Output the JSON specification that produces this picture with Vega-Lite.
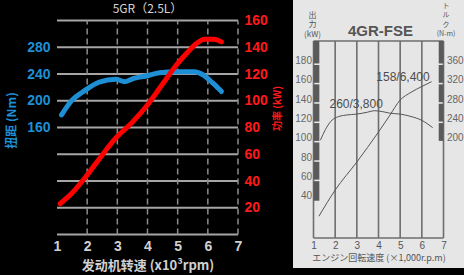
{
  "$schema": "https://vega.github.io/schema/vega-lite/v6.json",
  "background": "#000000",
  "padding": 0,
  "spacing": 0,
  "config": {
    "view": {"stroke": null},
    "axis": {"ticks": false, "domain": false, "grid": false, "labelFlush": false, "labelOverlap": false}
  },
  "hconcat": [
    {
      "width": 292.5,
      "height": 275,
      "resolve": {"scale": {"x": "independent", "y": "independent"}},
      "layer": [
        {
          "data": {"values": [{"kw": 0}, {"kw": 20}, {"kw": 40}, {"kw": 60}, {"kw": 80}, {"kw": 100}, {"kw": 120}, {"kw": 140}, {"kw": 160}]},
          "mark": {"type": "rule", "color": "#a6a6a6", "strokeWidth": 2},
          "encoding": {
            "x": {"datum": 1, "type": "quantitative", "scale": {"domain": [-0.8895, 8.8066], "nice": false, "zero": false}, "axis": null},
            "x2": {"datum": 7},
            "y": {"field": "kw", "type": "quantitative", "scale": {"domain": [-30.28, 175.33], "nice": false, "zero": false}, "axis": null}
          }
        },
        {
          "data": {"values": [{"rpm": 2}, {"rpm": 3}, {"rpm": 4}, {"rpm": 5}, {"rpm": 6}, {"rpm": 7}]},
          "mark": {"type": "rule", "color": "#8c8c8c", "strokeWidth": 1.5, "strokeDash": [6, 4]},
          "encoding": {
            "x": {"field": "rpm", "type": "quantitative", "scale": {"domain": [-0.8895, 8.8066], "nice": false, "zero": false}, "axis": null},
            "y": {"datum": 0, "type": "quantitative", "scale": {"domain": [-30.28, 175.33], "nice": false, "zero": false}, "axis": null},
            "y2": {"datum": 160}
          }
        },
        {
          "data": {"values": [{"t": "5GR（2.5L）"}]},
          "mark": {"type": "text", "font": "Noto Sans CJK SC", "fontSize": 12, "color": "#d6d6d6", "align": "center", "baseline": "middle"},
          "encoding": {
            "x": {"datum": 4, "type": "quantitative", "scale": {"domain": [-0.8895, 8.8066], "nice": false, "zero": false}, "axis": null},
            "y": {"datum": 168.6, "type": "quantitative", "scale": {"domain": [-30.28, 175.33], "nice": false, "zero": false}, "axis": null},
            "text": {"field": "t"}
          }
        },
        {
          "data": {"values": [
            {"rpm": 1.15, "nm": 179}, {"rpm": 1.5, "nm": 201}, {"rpm": 1.85, "nm": 213}, {"rpm": 2.4, "nm": 228},
            {"rpm": 2.95, "nm": 232}, {"rpm": 3.25, "nm": 228.5}, {"rpm": 3.55, "nm": 233.5}, {"rpm": 3.95, "nm": 237},
            {"rpm": 4.4, "nm": 242}, {"rpm": 4.95, "nm": 243.5}, {"rpm": 5.55, "nm": 243.5}, {"rpm": 5.85, "nm": 238.5},
            {"rpm": 6.15, "nm": 227}, {"rpm": 6.45, "nm": 214}
          ]},
          "mark": {"type": "line", "color": "#1e8fd5", "strokeWidth": 5, "interpolate": "monotone", "strokeCap": "round"},
          "encoding": {
            "x": {
              "field": "rpm", "type": "quantitative",
              "scale": {"domain": [-0.8895, 8.8066], "nice": false, "zero": false},
              "axis": {
                "orient": "bottom", "offset": -40.5,
                "values": [1, 2, 3, 4, 5, 6, 7],
                "labelColor": "#d0d0d0", "labelFont": "Liberation Sans", "labelFontSize": 14, "labelFontWeight": "bold",
                "labelBaseline": "middle", "labelPadding": 12,
                "title": "发动机转速 (x10³rpm)", "titleColor": "#d0d0d0", "titleFont": "Noto Sans CJK SC", "titleFontSize": 13, "titleFontWeight": "bold",
                "titleBaseline": "middle", "titleY": 30.5, "titleX": 147.5, "titleAlign": "center"
              }
            },
            "y": {
              "field": "nm", "type": "quantitative",
              "scale": {"domain": [-60.56, 350.66], "nice": false, "zero": false},
              "axis": {
                "orient": "left", "offset": -57, "values": [160, 200, 240, 280],
                "labelColor": "#1e8fd5", "labelFont": "Liberation Sans", "labelFontSize": 14, "labelFontWeight": "bold", "labelPadding": 7,
                "title": "扭距 (Nm)", "titleColor": "#1e8fd5", "titleFont": "Noto Sans CJK SC", "titleFontSize": 12, "titleFontWeight": "bold",
                "titleAngle": 270, "titleX": -46, "titleY": 120, "titleAlign": "center", "titleBaseline": "middle"
              }
            }
          }
        },
        {
          "data": {"values": [
            {"rpm": 1.1, "kw": 23}, {"rpm": 1.5, "kw": 31}, {"rpm": 1.95, "kw": 43}, {"rpm": 2.45, "kw": 58},
            {"rpm": 2.9, "kw": 71}, {"rpm": 3.5, "kw": 84}, {"rpm": 3.95, "kw": 95.5}, {"rpm": 4.5, "kw": 112.5},
            {"rpm": 4.95, "kw": 126.5}, {"rpm": 5.3, "kw": 135.5}, {"rpm": 5.6, "kw": 142.5}, {"rpm": 5.9, "kw": 146},
            {"rpm": 6.2, "kw": 146}, {"rpm": 6.45, "kw": 144}
          ]},
          "mark": {"type": "line", "color": "#ff0000", "strokeWidth": 5, "interpolate": "monotone", "strokeCap": "round"},
          "encoding": {
            "x": {"field": "rpm", "type": "quantitative", "scale": {"domain": [-0.8895, 8.8066], "nice": false, "zero": false}, "axis": null},
            "y": {
              "field": "kw", "type": "quantitative",
              "scale": {"domain": [-30.28, 175.33], "nice": false, "zero": false},
              "axis": {
                "orient": "right", "offset": -54.5, "values": [20, 40, 60, 80, 100, 120, 140, 160],
                "labelColor": "#ff1a1a", "labelFont": "Liberation Sans", "labelFontSize": 14, "labelFontWeight": "bold", "labelPadding": 6,
                "title": "功率 (kW)", "titleColor": "#ff1a1a", "titleFont": "Noto Sans CJK SC", "titleFontSize": 10, "titleFontWeight": "bold",
                "titleAngle": 270, "titleX": 39.5, "titleY": 108, "titleAlign": "center", "titleBaseline": "middle"
              }
            }
          }
        }
      ]
    },
    {
      "width": 171.5,
      "height": 268,
      "view": {"fill": "#e6e6e6", "stroke": null},
      "resolve": {"scale": {"x": "independent", "y": "independent"}},
      "layer": [
        {
          "data": {"values": [{"rpm": 1}, {"rpm": 2}, {"rpm": 3}, {"rpm": 4}, {"rpm": 5}, {"rpm": 6}, {"rpm": 7}]},
          "mark": {"type": "rule", "color": "#6e6e6e", "strokeWidth": 1.6},
          "encoding": {
            "x": {"field": "rpm", "type": "quantitative", "scale": {"domain": [0.0538, 7.969], "nice": false, "zero": false}, "axis": null},
            "y": {"datum": -3.5, "type": "quantitative", "scale": {"domain": [-34.49, 242.35], "nice": false, "zero": false}, "axis": null},
            "y2": {"datum": 200}
          }
        },
        {
          "data": {"values": [{"kw": -3.5}, {"kw": 200}]},
          "mark": {"type": "rule", "color": "#6e6e6e", "strokeWidth": 1.6},
          "encoding": {
            "x": {"datum": 1, "type": "quantitative", "scale": {"domain": [0.0538, 7.969], "nice": false, "zero": false}, "axis": null},
            "x2": {"datum": 7},
            "y": {"field": "kw", "type": "quantitative", "scale": {"domain": [-34.49, 242.35], "nice": false, "zero": false}, "axis": null}
          }
        },
        {
          "data": {"values": [
            {"lo": 35, "hi": 55.2}, {"lo": 56.8, "hi": 75.2}, {"lo": 76.8, "hi": 95.2}, {"lo": 96.8, "hi": 115.2},
            {"lo": 116.8, "hi": 135.2}, {"lo": 136.8, "hi": 155.2}, {"lo": 156.8, "hi": 175.2}, {"lo": 176.8, "hi": 200}
          ]},
          "mark": {"type": "rect", "color": "#5a5a5a"},
          "encoding": {
            "x": {"datum": 1, "type": "quantitative", "scale": {"domain": [0.0538, 7.969], "nice": false, "zero": false}, "axis": null},
            "x2": {"datum": 1.27},
            "y": {"field": "lo", "type": "quantitative", "scale": {"domain": [-34.49, 242.35], "nice": false, "zero": false}, "axis": null},
            "y2": {"field": "hi"}
          }
        },
        {
          "data": {"values": [
            {"lo": 96.8, "hi": 115.2}, {"lo": 116.8, "hi": 135.2}, {"lo": 136.8, "hi": 155.2}, {"lo": 156.8, "hi": 175.2}, {"lo": 176.8, "hi": 200}
          ]},
          "mark": {"type": "rect", "color": "#5a5a5a"},
          "encoding": {
            "x": {"datum": 6.78, "type": "quantitative", "scale": {"domain": [0.0538, 7.969], "nice": false, "zero": false}, "axis": null},
            "x2": {"datum": 7},
            "y": {"field": "lo", "type": "quantitative", "scale": {"domain": [-34.49, 242.35], "nice": false, "zero": false}, "axis": null},
            "y2": {"field": "hi"}
          }
        },
        {
          "data": {"values": [
            {"rpm": 1.25, "kw": 19}, {"rpm": 2, "kw": 46}, {"rpm": 3, "kw": 75}, {"rpm": 4, "kw": 106},
            {"rpm": 4.5, "kw": 122.5}, {"rpm": 5, "kw": 139}, {"rpm": 5.5, "kw": 147}, {"rpm": 6, "kw": 153}, {"rpm": 6.45, "kw": 158}
          ]},
          "mark": {"type": "line", "color": "#555555", "strokeWidth": 1, "interpolate": "monotone"},
          "encoding": {
            "x": {
              "field": "rpm", "type": "quantitative",
              "scale": {"domain": [0.0538, 7.969], "nice": false, "zero": false},
              "axis": {
                "orient": "bottom", "offset": -30,
                "values": [1, 2, 3, 4, 5, 6, 7],
                "labelColor": "#555555", "labelFont": "Liberation Sans", "labelFontSize": 10,
                "labelBaseline": "middle", "labelPadding": 7,
                "title": "エンジン回転速度 (×1,000r.p.m)", "titleColor": "#555555", "titleFont": "Noto Sans CJK JP", "titleFontSize": 9, "titleFontWeight": "normal",
                "titleBaseline": "middle", "titleY": 19, "titleX": 85.5, "titleAlign": "center"
              }
            },
            "y": {
              "field": "kw", "type": "quantitative",
              "scale": {"domain": [-34.49, 242.35], "nice": false, "zero": false},
              "axis": {
                "orient": "left", "offset": -20.5, "values": [40, 60, 80, 100, 120, 140, 160, 180],
                "labelColor": "#666666", "labelFont": "Liberation Sans", "labelFontSize": 10, "labelPadding": 2,
                "title": ["出", "力", "(kW)"], "titleColor": "#555555", "titleFont": "Noto Sans CJK JP", "titleFontSize": 8, "titleFontWeight": "normal",
                "titleAngle": 0, "titleX": -1.5, "titleY": 11, "titleAlign": "center", "titleBaseline": "top", "titleLineHeight": 9.5
              }
            }
          }
        },
        {
          "data": {"values": [{"t": "4GR-FSE"}]},
          "mark": {"type": "text", "font": "Liberation Sans", "fontSize": 15, "fontWeight": "bold", "color": "#555555", "align": "center", "baseline": "middle"},
          "encoding": {
            "x": {"datum": 4.09, "type": "quantitative", "scale": {"domain": [0.0538, 7.969], "nice": false, "zero": false}, "axis": null},
            "y": {"datum": 210.3, "type": "quantitative", "scale": {"domain": [-34.49, 242.35], "nice": false, "zero": false}, "axis": null},
            "text": {"field": "t"}
          }
        },
        {
          "data": {"values": [{"rpm": 6.4, "kw": 158, "label": "158/6,400"}]},
          "mark": {"type": "text", "font": "Liberation Sans", "fontSize": 12, "color": "#4d4d4d", "align": "center", "baseline": "middle", "dx": -27.5, "dy": -4.7},
          "encoding": {
            "x": {"field": "rpm", "type": "quantitative", "scale": {"domain": [0.0538, 7.969], "nice": false, "zero": false}, "axis": null},
            "y": {"field": "kw", "type": "quantitative", "scale": {"domain": [-34.49, 242.35], "nice": false, "zero": false}, "axis": null},
            "text": {"field": "label"}
          }
        },
        {
          "data": {"values": [
            {"rpm": 1.32, "nm": 195}, {"rpm": 1.55, "nm": 217}, {"rpm": 1.8, "nm": 234}, {"rpm": 2.05, "nm": 242},
            {"rpm": 2.5, "nm": 247}, {"rpm": 3, "nm": 249}, {"rpm": 3.5, "nm": 253}, {"rpm": 3.8, "nm": 256},
            {"rpm": 4.2, "nm": 254}, {"rpm": 4.5, "nm": 251}, {"rpm": 5, "nm": 249}, {"rpm": 5.5, "nm": 244},
            {"rpm": 6, "nm": 236}, {"rpm": 6.5, "nm": 221}
          ]},
          "mark": {"type": "line", "color": "#555555", "strokeWidth": 1, "interpolate": "monotone"},
          "encoding": {
            "x": {"field": "rpm", "type": "quantitative", "scale": {"domain": [0.0538, 7.969], "nice": false, "zero": false}, "axis": null},
            "y": {
              "field": "nm", "type": "quantitative",
              "scale": {"domain": [-68.98, 484.7], "nice": false, "zero": false},
              "axis": {
                "orient": "right", "offset": -21, "values": [200, 240, 280, 320, 360],
                "labelColor": "#666666", "labelFont": "Liberation Sans", "labelFontSize": 10, "labelPadding": 3,
                "title": ["ト", "ル", "ク", "(N-m)"], "titleColor": "#555555", "titleFont": "Noto Sans CJK JP", "titleFontSize": 7, "titleFontWeight": "normal",
                "titleAngle": 0, "titleX": 2, "titleY": 1.5, "titleAlign": "center", "titleBaseline": "top", "titleLineHeight": 9.3
              }
            }
          }
        },
        {
          "data": {"values": [{"rpm": 3.8, "nm": 260, "label": "260/3,800"}]},
          "mark": {"type": "text", "font": "Liberation Sans", "fontSize": 12, "color": "#4d4d4d", "align": "center", "baseline": "middle", "dx": -18, "dy": -5},
          "encoding": {
            "x": {"field": "rpm", "type": "quantitative", "scale": {"domain": [0.0538, 7.969], "nice": false, "zero": false}, "axis": null},
            "y": {"field": "nm", "type": "quantitative", "scale": {"domain": [-68.98, 484.7], "nice": false, "zero": false}, "axis": null},
            "text": {"field": "label"}
          }
        }
      ]
    }
  ]
}
